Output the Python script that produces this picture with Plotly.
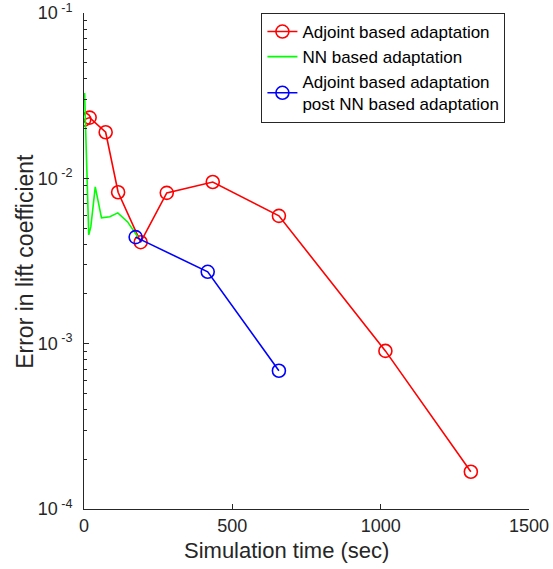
import plotly.graph_objects as go

# Adjoint based adaptation
adj_t = [1, 19, 73, 115, 191, 279, 434, 657, 1016, 1304]
adj_err = [0.0227, 0.0233, 0.0190, 0.00824, 0.00411, 0.00817, 0.00950, 0.00593, 0.000904, 0.000168]

# NN based adaptation
nn_t = [2, 16, 23, 38, 59, 87, 114, 147, 181]
nn_err = [0.0328, 0.00455, 0.00508, 0.00887, 0.00577, 0.00585, 0.00618, 0.00545, 0.00443]

# Adjoint based adaptation post NN based adaptation
post_t = [174, 417, 657]
post_err = [0.00441, 0.00272, 0.000686]

x_ticks = [0, 500, 1000, 1500]
y_ticks = [1e-4, 1e-3, 1e-2, 1e-1]
y_ticktext = ["10<sup> -4</sup>", "10<sup> -3</sup>", "10<sup> -2</sup>", "10<sup> -1</sup>"]

minor_vals = [m * 10.0 ** e for e in (-4, -3, -2) for m in range(2, 10)]

axcol = "#262626"
font = "Liberation Sans, Arial, Helvetica, sans-serif"

fig = go.Figure()
fig.add_trace(go.Scatter(
    x=adj_t, y=adj_err, mode="lines+markers", name="Adjoint based adaptation",
    line=dict(color="#ff0000", width=1.6),
    marker=dict(symbol="circle-open", size=13, color="#ff0000", line=dict(width=1.6)),
))
fig.add_trace(go.Scatter(
    x=nn_t, y=nn_err, mode="lines", name="NN based adaptation",
    line=dict(color="#00ff00", width=1.6),
))
fig.add_trace(go.Scatter(
    x=post_t, y=post_err, mode="lines+markers",
    name="Adjoint based adaptation<br>post NN based adaptation",
    line=dict(color="#0000ff", width=1.6),
    marker=dict(symbol="circle-open", size=13, color="#0000ff", line=dict(width=1.6)),
))

fig.update_layout(
    width=553, height=569,
    margin=dict(l=84, r=24, t=13, b=60),
    plot_bgcolor="white", paper_bgcolor="white",
    font=dict(family=font, size=17, color=axcol),
    showlegend=True,
    legend=dict(
        x=0.947, y=1.0, xanchor="right", yanchor="top",
        bordercolor=axcol, borderwidth=1, bgcolor="white",
        font=dict(family=font, size=17, color="black"),
        tracegroupgap=0, itemwidth=30,
    ),
    xaxis=dict(
        range=[0, 1500], tickvals=x_ticks, ticktext=[str(v) for v in x_ticks],
        showline=True, linecolor=axcol, linewidth=1, mirror=False,
        ticks="inside", ticklen=5, tickcolor=axcol, showgrid=False, zeroline=False,
        automargin=False,
        tickfont=dict(size=18, family=font, color=axcol),
    ),
    yaxis=dict(
        type="log", range=[-4, -1], tickvals=y_ticks, ticktext=y_ticktext,
        showline=True, linecolor=axcol, linewidth=1, mirror=False,
        ticks="inside", ticklen=5, tickcolor=axcol, showgrid=False, zeroline=False,
        automargin=False, ticklabelstandoff=7,
        minor=dict(tickvals=minor_vals, ticks="inside", ticklen=3, tickcolor=axcol, showgrid=False),
        tickfont=dict(size=18, family=font, color=axcol),
    ),
    annotations=[
        dict(text="Simulation time (sec)", xref="paper", yref="paper",
             x=0.456, y=-0.083, xanchor="center", yanchor="middle", showarrow=False,
             font=dict(size=22, family=font, color=axcol)),
        dict(text="Error in lift coefficient", xref="paper", yref="paper",
             x=-0.133, y=0.5, xanchor="center", yanchor="middle", showarrow=False,
             textangle=-90, font=dict(size=23, family=font, color=axcol)),
    ],
)

fig.write_html("out.html")
